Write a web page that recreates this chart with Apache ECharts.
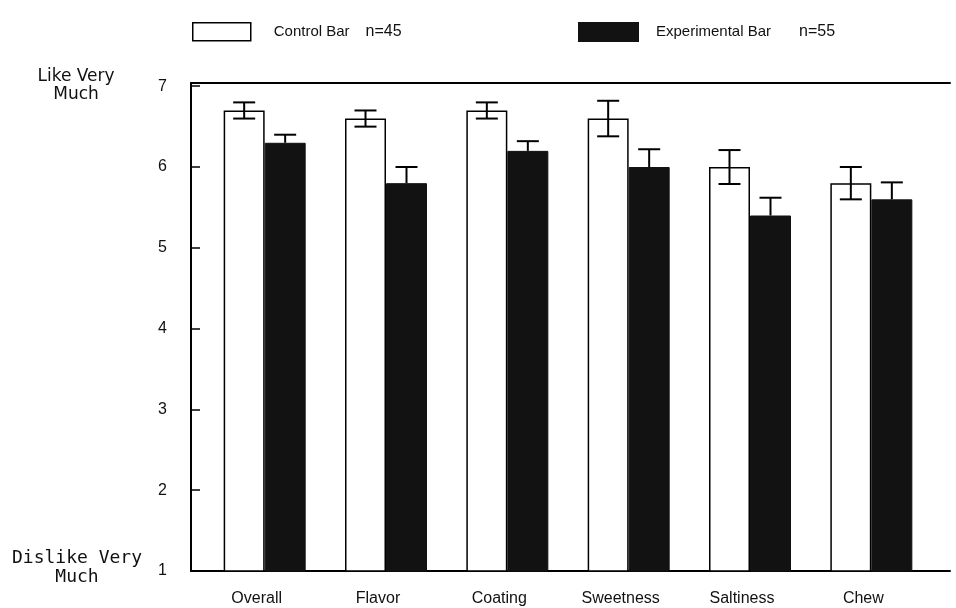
<!DOCTYPE html>
<html>
<head>
<meta charset="utf-8">
<script src="https://cdn.jsdelivr.net/npm/echarts@6/dist/echarts.min.js"></script>
<style>
  html, body { margin: 0; padding: 0; background: #fff; }
  #chart { width: 956px; height: 608px; }
</style>
</head>
<body>
<div id="chart"></div>
<script>
const categories = ['Overall', 'Flavor', 'Coating', 'Sweetness', 'Saltiness', 'Chew'];
const seriesNames = ['Control Bar', 'Experimental Bar'];
const sampleSizes = [45, 55];
const controlMeans = [6.7, 6.6, 6.7, 6.6, 6.0, 5.8];
const controlErr = [0.1, 0.1, 0.1, 0.22, 0.21, 0.2];
const expMeans = [6.3, 5.8, 6.2, 6.0, 5.4, 5.6];
const expErr = [0.1, 0.2, 0.12, 0.22, 0.22, 0.21];
const yTicks = [1, 2, 3, 4, 5, 6, 7];
const topLabel = ['Like Very', 'Much'];
const bottomLabel = ['Dislike Very', 'Much'];

const FONT = '"Liberation Sans", Arial, sans-serif';
const WIDE = '"DejaVu Sans", sans-serif';
const MONO = '"DejaVu Sans Mono", monospace';
const BAR_W = 41;
const CAP = 11;

const chart = echarts.init(document.getElementById('chart'), null, { renderer: 'canvas' });

function errRender(shift, both) {
  return function (params, api) {
    const i = api.value(0), v = api.value(1), e = api.value(2);
    const t = api.coord([i, v + e]);
    const m = api.coord([i, v]);
    const b = api.coord([i, v - e]);
    const x = t[0] + shift;
    const style = { stroke: '#000', lineWidth: 2 };
    const children = [
      { type: 'line', shape: { x1: x, y1: t[1], x2: x, y2: both ? b[1] : m[1] }, style },
      { type: 'line', shape: { x1: x - CAP, y1: t[1], x2: x + CAP, y2: t[1] }, style }
    ];
    if (both) children.push({ type: 'line', shape: { x1: x - CAP, y1: b[1], x2: x + CAP, y2: b[1] }, style });
    return { type: 'group', children };
  };
}

const option = {
  animation: false,
  backgroundColor: '#fff',
  textStyle: { fontFamily: FONT },
  grid: [
    { left: 191, right: 6, top: 83, bottom: 37 },
    { left: 204, right: 24, top: 83, bottom: 37 }
  ],
  legend: [
    {
      data: [seriesNames[0]], left: 192, top: 22, padding: 0, itemWidth: 58, itemHeight: 18, icon: 'rect',
      itemStyle: { borderColor: '#000', borderWidth: 1.5 },
      formatter: n => '{a|' + n + '}{b|n=' + sampleSizes[0] + '}',
      textStyle: { padding: [0, 0, 0, 18], rich: { a: { fontSize: 15, color: '#111', fontFamily: FONT }, b: { fontSize: 16, color: '#111', padding: [0, 0, 0, 16], fontFamily: FONT } } }
    },
    {
      data: [seriesNames[1]], left: 578, top: 22, padding: 0, itemWidth: 59, itemHeight: 18, icon: 'rect',
      formatter: n => '{a|' + n + '}{b|n=' + sampleSizes[1] + '}',
      textStyle: { padding: [0, 0, 0, 13], rich: { a: { fontSize: 15, color: '#111', fontFamily: FONT }, b: { fontSize: 16, color: '#111', padding: [0, 0, 0, 28], fontFamily: FONT } } }
    }
  ],
  xAxis: [
    { type: 'value', gridIndex: 0, min: 0, max: 1, position: 'bottom',
      axisLine: { show: true, lineStyle: { color: '#000', width: 2 } },
      axisTick: { show: false }, axisLabel: { show: false }, splitLine: { show: false } },
    { type: 'value', gridIndex: 0, min: 0, max: 1, position: 'top',
      axisLine: { show: true, lineStyle: { color: '#000', width: 2 } },
      axisTick: { show: false }, axisLabel: { show: false }, splitLine: { show: false } },
    { type: 'category', gridIndex: 1, data: categories, position: 'bottom',
      axisLine: { show: false }, axisTick: { show: false },
      axisLabel: { color: '#111', fontSize: 16, margin: 20, padding: [0, 16, 0, 0], fontFamily: FONT } }
  ],
  yAxis: [
    { type: 'value', gridIndex: 0, min: 1, max: 7.04, interval: 1,
      axisLine: { show: true, lineStyle: { color: '#000', width: 2 } },
      axisTick: { show: true, inside: true, length: 9, lineStyle: { color: '#000', width: 1.5 } },
      axisLabel: { color: '#111', fontSize: 16, margin: 24, fontFamily: FONT,
        formatter: v => (yTicks.indexOf(v) >= 0 ? String(v) : '') },
      splitLine: { show: false } },
    { type: 'value', gridIndex: 1, min: 1, max: 7.04, show: false }
  ],
  graphic: [
    { type: 'text', x: 76, y: 68, style: { text: topLabel[0] + '\n' + topLabel[1], font: '17px ' + WIDE, fill: '#111', align: 'center', textAlign: 'center', lineHeight: 18 } },
    { type: 'text', x: 77, y: 549, style: { text: bottomLabel[0] + '\n' + bottomLabel[1], font: '18px ' + MONO, fill: '#111', align: 'center', textAlign: 'center', lineHeight: 19 } }
  ],
  series: [
    { name: seriesNames[0], type: 'bar', xAxisIndex: 2, yAxisIndex: 1, data: controlMeans,
      barWidth: BAR_W, barGap: '0%', clip: true,
      itemStyle: { color: '#fff', borderColor: '#000', borderWidth: 1.5 } },
    { name: seriesNames[1], type: 'bar', xAxisIndex: 2, yAxisIndex: 1, data: expMeans,
      barWidth: BAR_W, barGap: '0%', clip: true,
      itemStyle: { color: '#121212', borderColor: '#121212', borderWidth: 1 } },
    { type: 'custom', xAxisIndex: 2, yAxisIndex: 1, z: 5,
      data: controlMeans.map((v, i) => [i, v, controlErr[i]]),
      renderItem: errRender(-BAR_W / 2, true) },
    { type: 'custom', xAxisIndex: 2, yAxisIndex: 1, z: 5,
      data: expMeans.map((v, i) => [i, v, expErr[i]]),
      renderItem: errRender(BAR_W / 2, false) }
  ]
};
chart.setOption(option);
</script>
</body>
</html>
